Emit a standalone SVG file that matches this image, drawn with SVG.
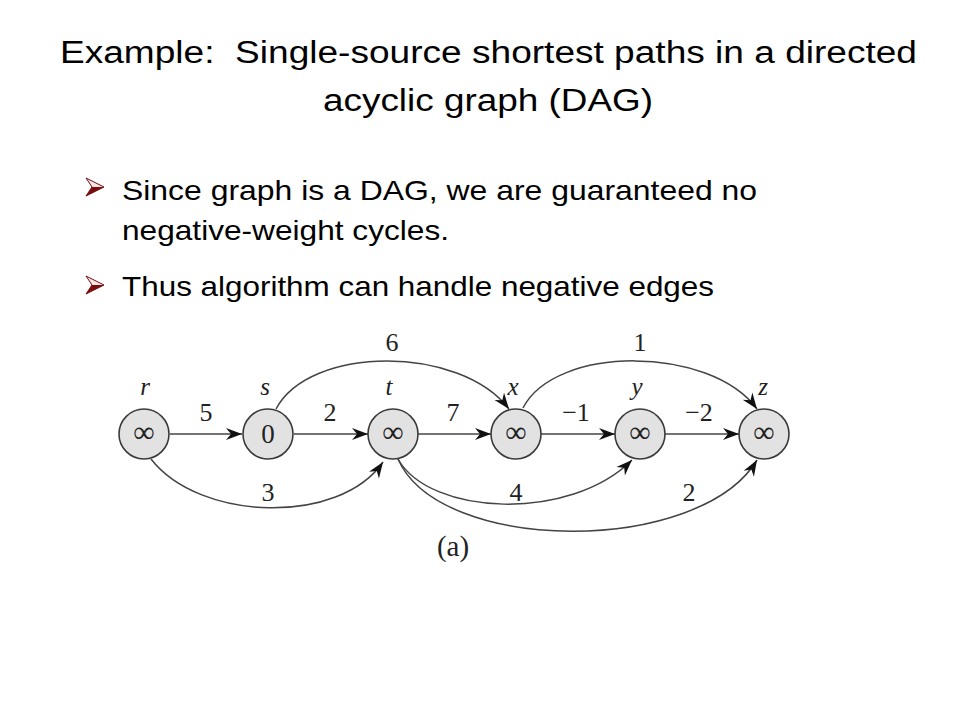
<svg xmlns="http://www.w3.org/2000/svg" width="960" height="720" viewBox="0 0 960 720">
<defs>
<style>
.title{font-family:"Liberation Sans",Arial,sans-serif;font-size:31px;fill:#000}
.body{font-family:"Liberation Sans",Arial,sans-serif;font-size:28.5px;fill:#000}
.node circle{fill:#e2e2e2;stroke:#3a3a3a;stroke-width:1.6}
.val{font-family:"Liberation Serif","Times New Roman",serif;font-size:30px;fill:#222;text-anchor:middle}
.zero{font-family:"Liberation Serif","Times New Roman",serif;font-size:27px;fill:#222;text-anchor:middle}
.nm{font-family:"Liberation Serif","Times New Roman",serif;font-style:italic;font-size:25px;fill:#222;text-anchor:middle}
.w{font-family:"Liberation Serif","Times New Roman",serif;font-size:26px;fill:#222;text-anchor:middle}
.edge{fill:none;stroke:#444;stroke-width:1.5;marker-end:url(#ah)}
.bul-o{fill:#f4e6e6;stroke:#7a0c0c;stroke-width:1}
.bul-f{fill:#7a0c0c}
</style>
<marker id="ah" markerUnits="userSpaceOnUse" markerWidth="20" markerHeight="14" viewBox="-17 -7 18 14" refX="0" refY="0" orient="auto">
<path d="M0,0 L-16,-6 L-11,0 L-16,6 Z" fill="#111"/>
</marker>
</defs>
<rect width="960" height="720" fill="#fff"/>
<g id="title">
<text class="title" x="60" y="63" textLength="857" lengthAdjust="spacingAndGlyphs" xml:space="preserve">Example:  Single-source shortest paths in a directed</text>
<text class="title" x="323" y="111" textLength="330" lengthAdjust="spacingAndGlyphs">acyclic graph (DAG)</text>
</g>
<g id="bullets">
<polygon class="bul-o" points="86,178 104,187 86,196 92,187"/>
<polygon class="bul-f" points="86,196 104,187 92,187"/>
<text class="body" x="122" y="200" textLength="635" lengthAdjust="spacingAndGlyphs">Since graph is a DAG, we are guaranteed no</text>
<text class="body" x="122" y="240" textLength="327" lengthAdjust="spacingAndGlyphs">negative-weight cycles.</text>
<polygon class="bul-o" points="86,276 104,285 86,294 92,285"/>
<polygon class="bul-f" points="86,294 104,285 92,285"/>
<text class="body" x="122" y="296" textLength="592" lengthAdjust="spacingAndGlyphs">Thus algorithm can handle negative edges</text>
</g>
<g id="edges">
<path class="edge" d="M170,434 L242,434"/>
<path class="edge" d="M294,434 L368,434"/>
<path class="edge" d="M418,434 L491,434"/>
<path class="edge" d="M541,434 L615,434"/>
<path class="edge" d="M665,434 L739,434"/>
<path class="edge" d="M276,409 C310,345 460,345 509,409"/>
<path class="edge" d="M523,408 C555,345 710,345 757,409"/>
<path class="edge" d="M151,459 C200,522 340,525 383,462"/>
<path class="edge" d="M398,459 C430,516 570,522 632,460"/>
<path class="edge" d="M398,459 C440,555 700,555 757,460"/>
</g>
<g id="weights">
<text class="w" x="206" y="421">5</text>
<text class="w" x="330" y="421">2</text>
<text class="w" x="453" y="421">7</text>
<text class="w" x="576" y="421">−1</text>
<text class="w" x="699" y="421">−2</text>
<text class="w" x="392" y="351">6</text>
<text class="w" x="640" y="351">1</text>
<text class="w" x="268" y="501">3</text>
<text class="w" x="516" y="501">4</text>
<text class="w" x="689" y="501">2</text>
</g>
<g id="node-r" class="node"><circle cx="144" cy="434" r="25"/><text class="val" x="144" y="442">∞</text><text class="nm" x="145" y="395">r</text></g>
<g id="node-s" class="node"><circle cx="268" cy="434" r="25"/><text class="zero" x="268" y="443">0</text><text class="nm" x="265" y="395">s</text></g>
<g id="node-t" class="node"><circle cx="393" cy="434" r="25"/><text class="val" x="393" y="442">∞</text><text class="nm" x="389" y="395">t</text></g>
<g id="node-x" class="node"><circle cx="516" cy="434" r="25"/><text class="val" x="516" y="442">∞</text><text class="nm" x="513" y="395">x</text></g>
<g id="node-y" class="node"><circle cx="640" cy="434" r="25"/><text class="val" x="640" y="442">∞</text><text class="nm" x="637" y="395">y</text></g>
<g id="node-z" class="node"><circle cx="764" cy="434" r="25"/><text class="val" x="764" y="442">∞</text><text class="nm" x="763" y="395">z</text></g>
<text x="453" y="556" style="font-family:'Liberation Serif','Times New Roman',serif;font-size:29px;fill:#222;text-anchor:middle">(a)</text>
</svg>
